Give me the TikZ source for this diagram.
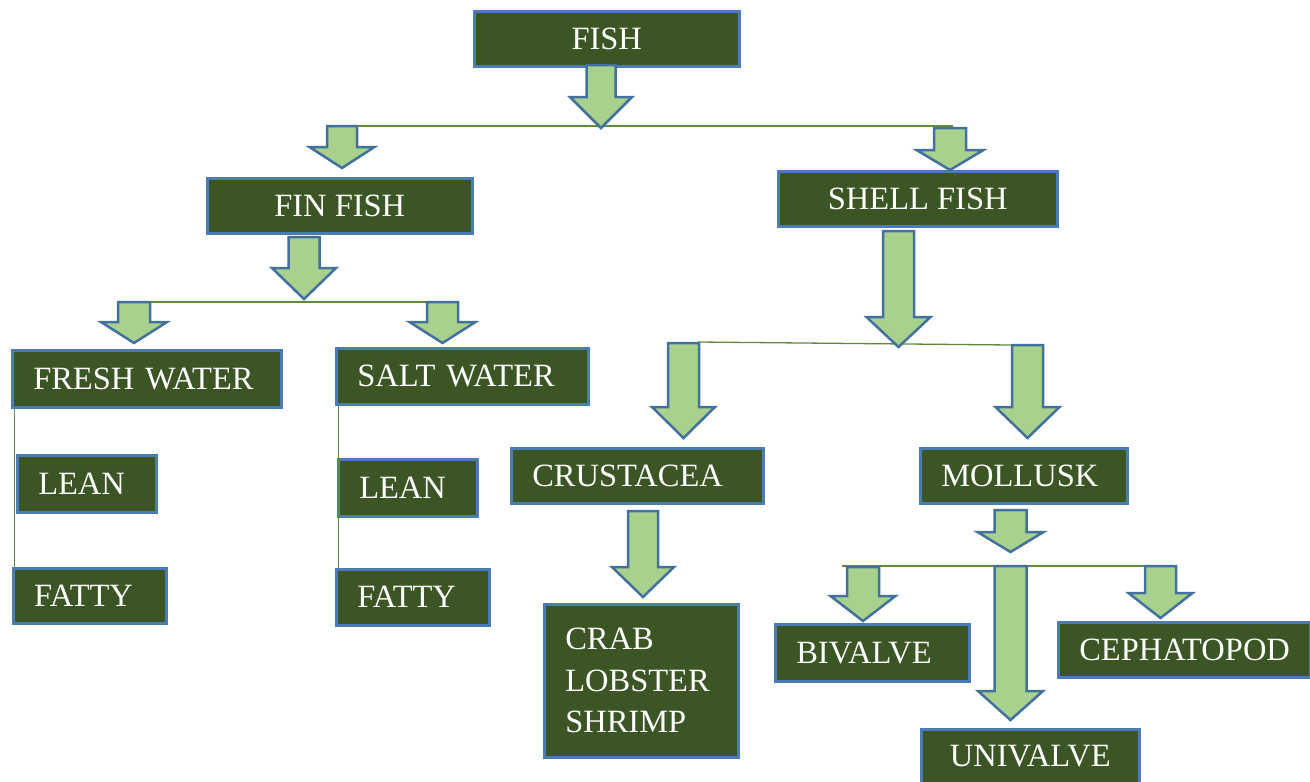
\documentclass[tikz,border=0pt]{standalone}
\usepackage{fontspec}
\setmainfont{Liberation Serif}
\definecolor{boxfill}{HTML}{3B5624}
\definecolor{boxline}{HTML}{4A7DB5}
\definecolor{arrowfill}{HTML}{A9D18E}
\definecolor{arrowline}{HTML}{41719C}
\definecolor{linkline}{HTML}{5E8C3A}
\tikzset{
  box/.style={draw=boxline, fill=boxfill, line width=2.5pt, text=white,
    font=\fontsize{32.5}{41.5}\selectfont, inner xsep=21pt, inner ysep=0pt,
    anchor=north west},
  blockarrow/.style={draw=arrowline, fill=arrowfill, line width=2.5pt, line join=miter},
  link/.style={draw=linkline, line width=1.3pt}
}
% downward block arrow: centre x, top y, head y, tip y, half shaft width, half head width
\newcommand{\blockarrowdown}[6]{%
  \draw[blockarrow] (#1-#5,#2) -- (#1+#5,#2) -- (#1+#5,#3) -- (#1+#6,#3) -- (#1,#4)
    -- (#1-#6,#3) -- (#1-#5,#3) -- cycle;}
\begin{document}
\begin{tikzpicture}[x=1pt, y=-1pt]
\useasboundingbox (0,0) rectangle (1310,782);
\begin{scope}
\clip (0,0) rectangle (1310,782);

% branch lines
\coordinate (b1l) at (357,126);  \coordinate (b1r) at (953,126);
\coordinate (b2l) at (150,302);  \coordinate (b2r) at (458,302);
\coordinate (b3l) at (698,342);  \coordinate (b3r) at (1011,345);
\coordinate (b4l) at (842,566);  \coordinate (b4r) at (1176,566);
\draw[link] (b1l) -- (b1r);
\draw[link] (b2l) -- (b2r);
\draw[link] (b3l) -- (b3r);
\draw[link] (b4l) -- (b4r);

% boxes
\node[box, minimum width=265, minimum height=55] (fish) at (473,10) {FISH};
\node[box, minimum width=265, minimum height=55] (finfish) at (206,177) {FIN FISH};
\node[box, minimum width=279, minimum height=55] (shellfish) at (777,170) {SHELL FISH};
\node[box, text width=227, align=left, minimum height=57] (fresh) at (11,349) {FRESH WATER};
\node[box, text width=210, align=left, minimum height=56] (salt) at (335,347) {SALT WATER};
\node[box, text width=97, align=left, minimum height=57] (lean1) at (16,454) {LEAN};
\node[box, text width=111, align=left, minimum height=55] (fatty1) at (12,567) {FATTY};
\node[box, text width=97, align=left, minimum height=57] (lean2) at (337,458) {LEAN};
\node[box, text width=111, align=left, minimum height=56] (fatty2) at (335,568) {FATTY};
\node[box, text width=210, align=left, minimum height=55] (crust) at (510,447) {CRUSTACEA};
\node[box, text width=152, align=left, minimum height=153] (crab) at (543,603) {CRAB\\LOBSTER\\SHRIMP};
\node[box, text width=165, align=left, minimum height=55] (mollusk) at (919,447) {MOLLUSK};
\node[box, text width=152, align=left, minimum height=57] (bivalve) at (774,623) {BIVALVE};
\node[box, text width=210, align=left, minimum height=55] (ceph) at (1057,621) {CEPHATOPOD};
\node[box, minimum width=218, minimum height=54] (univalve) at (920,728) {UNIVALVE};

% side lines of the water groups
\coordinate (fl1) at ([xshift=3pt]fresh.south west);
\coordinate (fl2) at ([xshift=2pt]fatty1.north west);
\coordinate (sl1) at ([xshift=3pt]salt.south west);
\coordinate (sl2) at ([xshift=3pt]fatty2.north west);
\draw[link, line width=1pt] (fl1) -- (fl2);
\draw[link, line width=1pt] (sl1) -- (sl2);

% block arrows
\blockarrowdown{601}{65}{97}{128}{14.5}{31}
\blockarrowdown{342}{126}{147}{168}{15}{32.5}
\blockarrowdown{950}{128}{150}{170}{16}{33.5}
\blockarrowdown{304}{237}{268}{299}{15.5}{32}
\blockarrowdown{134}{302}{322}{343}{16}{33}
\blockarrowdown{442.5}{302}{322}{343}{15.5}{33}
\blockarrowdown{898.5}{231}{317}{347}{15.5}{32}
\blockarrowdown{683.5}{343}{407}{438}{15.5}{31.5}
\blockarrowdown{1027.5}{345}{407}{438}{15.5}{32}
\blockarrowdown{643}{511}{567}{597}{15}{31}
\blockarrowdown{1010.5}{510}{532}{552}{16}{33}
\blockarrowdown{863}{567}{596}{621}{16}{32.5}
\blockarrowdown{1010.5}{566}{691}{720}{16}{32.5}
\blockarrowdown{1160.5}{566}{593}{618}{15.5}{32}
\end{scope}
\end{tikzpicture}
\end{document}
